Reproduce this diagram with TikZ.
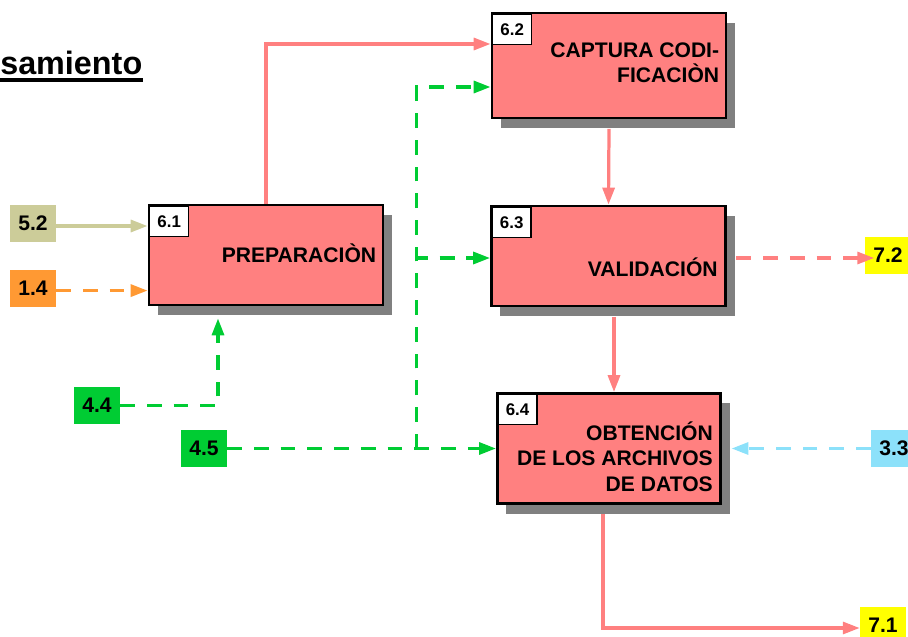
\documentclass[tikz,border=0pt]{standalone}
\usepackage{fontspec}
\setmainfont{Liberation Sans}
\usetikzlibrary{positioning,shadows,arrows.meta}

\definecolor{procred}{RGB}{255,128,128}
\definecolor{flowgreen}{RGB}{0,204,51}
\definecolor{flowkhaki}{RGB}{204,204,153}
\definecolor{floworange}{RGB}{255,153,51}
\definecolor{flowblue}{RGB}{140,225,250}
\definecolor{flowyellow}{RGB}{255,255,0}

\tikzset{
    proc/.style={draw=black, line width=2pt, fill=procred, inner sep=0pt,
        minimum width=5.85cm, minimum height=2.5cm,
        drop shadow={shadow xshift=0.225cm, shadow yshift=-0.25cm, fill=black!50, opacity=1}},
    procnum/.style={draw=black, line width=1pt, fill=white, inner sep=0pt,
        minimum width=0.97cm, minimum height=0.75cm, anchor=north west,
        font=\fontsize{12}{14}\bfseries\selectfont},
    proctext/.style={inner sep=0pt, align=right, anchor=base east,
        font=\fontsize{15}{17.8}\bfseries\selectfont},
    ext/.style={inner sep=0pt, minimum width=1.15cm, minimum height=0.925cm,
        font=\fontsize{15}{17}\bfseries\selectfont},
    flow/.style={line width=2.3pt, -{Triangle[length=12pt,width=8.5pt]}},
    dflow/.style={flow, dash pattern=on 10.5pt off 8.5pt},
}

\begin{document}
\begin{tikzpicture}[x=0.025cm, y=-0.025cm]
    \useasboundingbox (0,0) rectangle (908,637);
    \clip (0,0) rectangle (908,637);

    % titulo
    \node[inner sep=0pt, anchor=base west, font=\fontsize{23}{26}\bfseries\selectfont] (title) at (0,75) {samiento};
    \draw[line width=2.8pt] ([shift={(0,5)}]title.base west) -- ([shift={(0,5)}]title.base east);

    % procesos
    \node[proc] (p61) at (266,255) {};
    \node[proc, minimum height=2.625cm] (p62) at (609,65.5) {};
    \node[proc] (p63) at (608.5,256) {};
    \node[proc, minimum width=5.58cm, minimum height=2.75cm] (p64) at (609,448.5) {};

    \node[procnum] (n61) at ([shift={(1.5,2)}]p61.north west) {6.1};
    \node[procnum] (n62) at ([shift={(1.5,2)}]p62.north west) {6.2};
    \node[procnum] (n63) at ([shift={(1.5,2)}]p63.north west) {6.3};
    \node[procnum] (n64) at ([shift={(1.5,2)}]p64.north west) {6.4};

    \node[proctext] (l61) at ([shift={(-8,7)}]p61.east) {PREPARACIÒN};
    \node[proctext] (l62) at ([shift={(-8,17)}]p62.east) {CAPTURA CODI-\\FICACIÒN};
    \node[proctext] (l63) at ([shift={(-9,20)}]p63.east) {VALIDACIÓN};
    \node[proctext] (l64) at ([shift={(-9,42.5)}]p64.east) {OBTENCIÓN\\DE LOS ARCHIVOS\\DE DATOS};

    % entradas y salidas
    \node[ext, fill=flowkhaki] (t52) at (33,223.5) {5.2};
    \node[ext, fill=floworange, below=0.675cm of t52] (t14) {1.4};
    \node[ext, fill=flowgreen] (t44) at (97,405.5) {4.4};
    \node[ext, fill=flowgreen] (t45) at (204,448.5) {4.5};
    \node[ext, fill=flowblue] (t33) at (894,448.5) {3.3};
    \node[ext, fill=flowyellow] (t72) at (888,255.5) {7.2};
    \node[ext, fill=flowyellow] (t71) at (883,625.5) {7.1};

    \coordinate (j45) at (416.5,448.5);

    \draw[flow, flowkhaki] ([shift={(0,2.5)}]t52.east) -- ([shift={(0,2.5)}]t52.east -| p61.west);
    \draw[dflow, floworange] ([shift={(0,2.5)}]t14.east) -- ([shift={(0,2.5)}]t14.east -| p61.west);
    \draw[dflow, flowgreen] (t44.east) -| ([shift={(-48,12)}]p61.south);
    \draw[dflow, flowgreen] (t45.east) -- (p64.west);
    \draw[dflow, flowgreen] (j45) |- ([shift={(0,21.5)}]p62.west);
    \draw[dflow, flowgreen] (j45) |- ([shift={(0,2)}]p63.west);
    \draw[flow, procred] (p61.north) |- ([shift={(0,-21.5)}]p62.west);
    \draw[flow, procred] ([shift={(0,9.5)}]p62.south) -- (p63.north);
    \draw[flow, procred] ([shift={(5.5,9.5)}]p63.south) -- ([shift={(5.5,0)}]p63.south |- p64.north);
    \draw[dflow, procred] ([shift={(9.5,2)}]p63.east) -- ([shift={(9.5,2)}]p63.east -| t72.west);
    \draw[dflow, flowblue] (t33.west) -- ([shift={(9.5,0)}]p64.east);
    \draw[flow, procred] ([shift={(-6,9.5)}]p64.south) |- ([shift={(0,2.5)}]t71.west);
\end{tikzpicture}
\end{document}
